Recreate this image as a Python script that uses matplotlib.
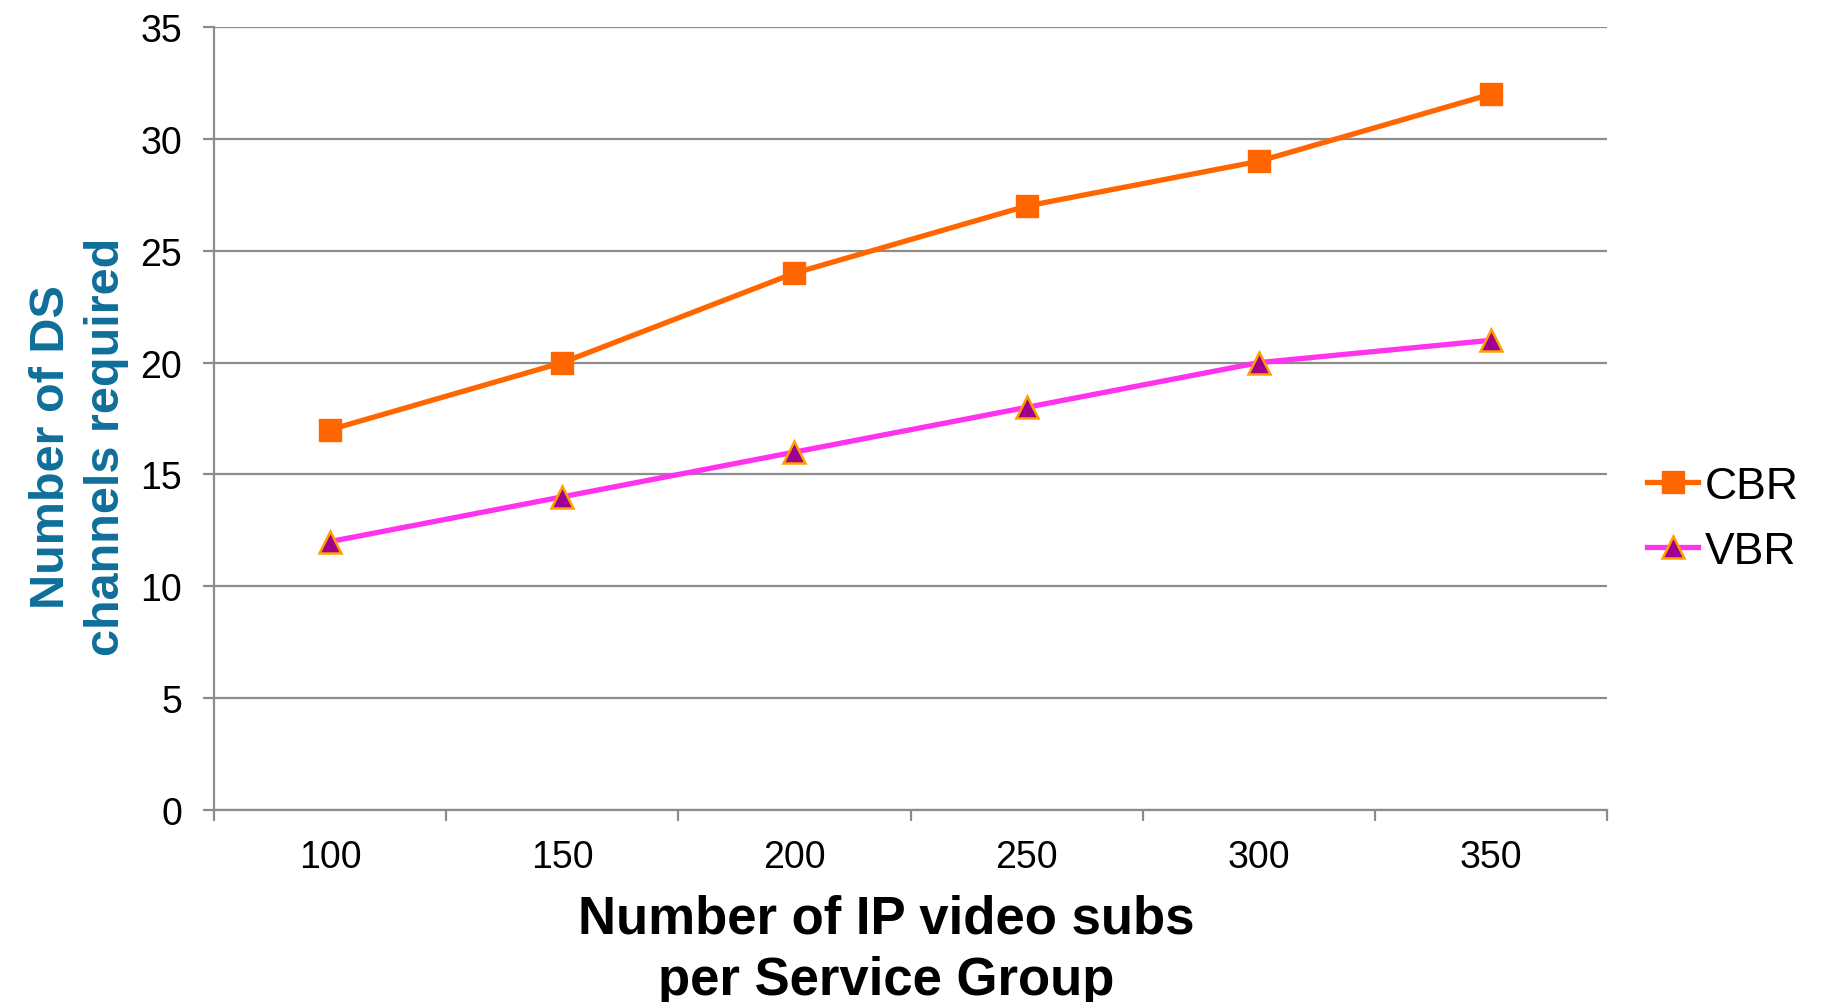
import matplotlib
matplotlib.use("Agg")
import matplotlib.pyplot as plt
from matplotlib.ticker import FixedLocator, NullFormatter

plt.rcParams['font.family'] = ['Liberation Sans', 'DejaVu Sans']

subs = ["100", "150", "200", "250", "300", "350"]
cbr = [17, 20, 24, 27, 29, 32]
vbr = [12, 14, 16, 18, 20, 21]
y_ticks = [0, 5, 10, 15, 20, 25, 30, 35]

grid_col = "#8c8c8c"

fig = plt.figure(figsize=(18.21, 10.03), dpi=100)
ax = fig.add_axes([0.1175, 0.1914, 0.765, 0.7806])

x = list(range(len(subs)))
ax.plot(x, cbr, color="#ff6600", lw=3.8, marker="s", ms=15.5,
        mfc="#ff6600", mec="#ff6600", label="CBR", zorder=3)
ax.plot(x, vbr, color="#ff33ee", lw=3.8, marker="^", ms=15.5,
        mfc="#a0008f", mec="#ffa000", mew=1.8, label="VBR", zorder=3)

ax.set_xlim(-0.5, len(subs) - 0.5)
ax.set_ylim(0, 35)
ax.set_yticks(y_ticks)
ax.yaxis.grid(True, color=grid_col, lw=1.6)
ax.set_axisbelow(True)

# category labels centred, tick marks on the boundaries
ax.set_xticks(x)
ax.set_xticklabels(subs)
ax.xaxis.set_minor_locator(FixedLocator([i - 0.5 for i in range(len(subs) + 1)]))
ax.xaxis.set_minor_formatter(NullFormatter())
ax.tick_params(axis="x", which="major", length=0, pad=21, labelsize=27)
ax.tick_params(axis="x", which="minor", length=8, width=1.6, color=grid_col)
ax.tick_params(axis="y", length=8, width=1.6, color=grid_col, pad=15, labelsize=27)

for s in ["top", "right"]:
    ax.spines[s].set_visible(False)
for s in ["left", "bottom"]:
    ax.spines[s].set_color(grid_col)
    ax.spines[s].set_linewidth(1.6)

fig.text(0.4866, 0.0525, "Number of IP video subs\nper Service Group",
         fontsize=38, fontweight="bold", ha="center", va="center",
         linespacing=1.3, multialignment="center")
fig.text(0.0435, 0.554, "Number of DS\nchannels required", fontsize=35,
         fontweight="bold", color="#0f6f9a", rotation=90,
         ha="center", va="center", linespacing=1.3, multialignment="center")

leg = ax.legend(loc="center left", bbox_to_anchor=(1.0, 0.372), frameon=False,
                fontsize=32, handlelength=1.15, handletextpad=0.15,
                labelspacing=0.55)

fig.savefig("out.png", dpi=100)
